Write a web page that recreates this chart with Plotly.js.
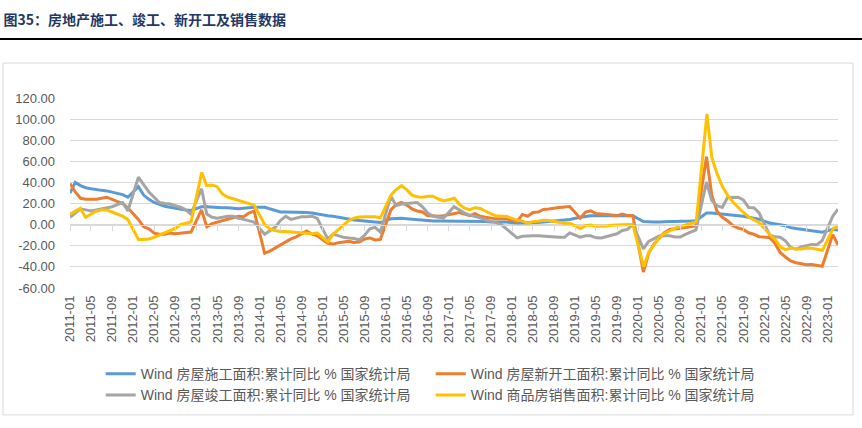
<!DOCTYPE html>
<html>
<head>
<meta charset="utf-8">
<script src="https://cdn.plot.ly/plotly-3.0.1.min.js"></script>
<style>body{margin:0;background:#fff}</style>
</head>
<body>
<div id="chart" style="width:862px;height:428px"></div>
<script>
// month categories 2011-01 .. 2023-03 (January figures are not published, so null)
let months = [];
for (let y = 2011; y <= 2023; y++) {
  for (let m = 1; m <= 12; m++) {
    if (y === 2023 && m > 3) break;
    months.push(y + '-' + String(m).padStart(2, '0'));
  }
}
let tickMonths = months.filter((d, i) => i % 4 === 0);

let yTicks = [-60, -40, -20, 0, 20, 40, 60, 80, 100, 120];
let yTickText = ['-60.00', '-40.00', '-20.00', '0.00', '20.00', '40.00', '60.00', '80.00', '100.00', '120.00'];

// 房屋施工面积:累计同比
let construction = [
  30, 40, 37, 35, 34, 33, 32.5, 32, 31, 30, 28.5, 26,
  null, 36, 28, 24, 21, 19, 17.5, 16.5, 15.5, 15, 14, 13.5,
  null, 17, 17, 16.5, 16.5, 16, 16, 15.5, 15, 15.5, 16, 16.5,
  null, 16.5, 15, 13, 12, 12, 12, 12, 12, 11.5, 11, 10,
  null, 8.5, 8, 7, 6, 5.5, 4.5, 4, 3.5, 3, 2.5, 2,
  null, 5.5, 6, 6, 5.5, 5, 4.5, 4.5, 4, 3.5, 3.5, 3.5,
  null, 3.5, 3.5, 3.5, 3, 3, 3, 3, 2.5, 2.5, 2.5, 2.5,
  null, 1.5, 1.5, 1.5, 1.5, 2, 2.5, 3, 3.5, 4, 4.5, 5,
  null, 7, 8, 8.5, 8.5, 8.5, 9, 9, 8.5, 9, 8.5, 8.5,
  null, 3, 2.5, 2.5, 2.5, 3, 3, 3, 3, 3.5, 3.5, 3.8,
  null, 11, 11, 10.5, 10, 10, 9, 8.5, 8, 7, 6, 5.2,
  null, 1.5, 1, 0, -1, -2.8, -3.7, -4.5, -5.3, -5.7, -6.5, -7.2,
  null, -4.4, -5.2
];

// 房屋新开工面积:累计同比
let newStarts = [
  39, 31, 25, 24, 24, 24, 25, 26, 24, 22, 20, 16,
  null, 5, -2, -4, -8, -9, -9, -8, -8.5, -8, -7.5, -7,
  null, 14, -2, 1, 2.5, 3.5, 5, 7, 8, 7.5, 11, 13,
  null, -27, -25, -22, -19.5, -16.5, -13.5, -11.5, -9, -6, -9, -10.5,
  null, -17.7, -18.4, -17.1, -16.1, -15.8, -16.8, -16.5, -13.5, -12.6, -14.5, -14,
  null, 14, 19, 21, 18.5, 15, 13, 12, 8.5, 8.5, 8, 8.5,
  null, 10.5, 11.5, 10, 8.5, 10.5, 8, 7, 6, 5.5, 5.5, 5.5,
  null, 3, 9.7, 8, 11.5, 12, 14.4, 14.8, 15.8, 16.3, 16.8, 17.2,
  null, 6, 11.9, 13.1, 10.5, 10.1, 9.5, 8.9, 8.6, 10, 8.6, 8.5,
  null, -44.9, -27.2, -18.4, -12.8, -7.6, -4.5, -3.6, -3.4, -2.6, -2, -1.2,
  null, 64.3, 28.2, 12.8, 6.9, 3.8, -0.9, -3.2, -4.5, -7.7, -9.1, -11.4,
  null, -12.2, -17.5, -26.3, -30.6, -34.4, -36.1, -37.2, -38, -37.8, -38.9, -39.4,
  null, -9.4, -19.2
];

// 房屋竣工面积:累计同比
let completions = [
  7, 11, 15, 14, 13, 14, 15, 16, 17, 19, 21, 13,
  null, 45, 38, 31, 26, 21, 20, 19.5, 18, 16.5, 14, 10,
  null, 34, 10, 7, 6, 7, 8, 8, 6, 5, 4, 2.5,
  null, -9, -6, -2.5, 4, 8, 5, 6.5, 7.5, 7.5, 8, 6,
  null, -13.5, -9, -10.5, -12, -12.7, -13, -14.5, -10, -4, -2.5, -7,
  null, 27, 18, 19.5, 20, 20.5, 21, 17, 11, 8, 7, 6.3,
  null, 17, 14, 11, 9, 8, 6.5, 4.5, 3.5, 2, 0, -4,
  null, -12.5, -11, -10.5, -10.5, -10.5, -11, -11, -11.5, -12, -12, -7.8,
  null, -11.9, -10.5, -10.5, -12.5, -12.7, -11.3, -10, -8.6, -5.5, -4.5, 0.5,
  null, -22.9, -15.8, -13.5, -10.8, -10.5, -10.5, -11.6, -11.6, -9.2, -7.3, -4.9,
  null, 40.4, 22.9, 17.9, 16.4, 25.7, 25.7, 26, 23.4, 16.3, 16, 11.2,
  null, -9.8, -11.5, -11.9, -15.3, -21.5, -23.3, -21.1, -19.9, -18.7, -19, -15,
  null, 8, 14.7
];

// 商品房销售面积:累计同比
let sales = [
  10, 13, 15.5, 7, 10, 12.7, 14, 14, 12, 10, 8, 5,
  null, -14, -14, -13.5, -12, -10, -8, -5.5, -3.5, 0, 1.5, 2.5,
  null, 49.5, 37.1, 37.5, 36, 29, 26, 24.5, 23, 22, 20, 18.5,
  null, 0, -4, -5.5, -6.5, -6.5, -7, -7.5, -8, -8.5, -8.5, -8,
  null, -16.3, -9.2, -4.8, -0.2, 3.9, 6.1, 7.2, 7.5, 7.5, 7.4, 6.5,
  null, 28.2, 33.1, 37, 33.2, 28, 26.5, 26, 27, 27, 24.3, 22.5,
  null, 25, 19.5, 15.7, 14.3, 16.1, 15.3, 12.7, 10.3, 8.2, 7.9, 7.7,
  null, 4.1, 3.6, 1.3, 2.9, 3.3, 4.2, 4, 2.9, 2.2, 1.4, 1.3,
  null, -3.6, -0.9, -0.3, -1.6, -1.8, -1.3, -0.6, -0.1, 0.1, 0.2, -0.1,
  null, -39.9, -26.3, -19.3, -12.3, -8.4, -5.8, -3.3, -1.8, 0, 1.3, 2.6,
  null, 104.9, 63.8, 48.1, 36.3, 27.7, 21.5, 15.9, 11.3, 7.3, 4.8, 1.9,
  null, -9.6, -13.8, -20.9, -23.6, -22.2, -23.1, -23, -22.2, -22.3, -23.3, -24.3,
  null, -3.6, -1.8
];

let names = [
  'Wind 房屋施工面积:累计同比 % 国家统计局',
  'Wind 房屋新开工面积:累计同比 % 国家统计局',
  'Wind 房屋竣工面积:累计同比 % 国家统计局',
  'Wind 商品房销售面积:累计同比 % 国家统计局'
];
let colors = ['#5B9BD5', '#ED7D31', '#A5A5A5', '#FFC000'];
let series = [construction, newStarts, completions, sales];

let data = series.map((s, i) => ({
  x: months,
  y: s,
  name: names[i],
  type: 'scatter',
  mode: 'lines',
  connectgaps: true,
  line: {color: colors[i], width: 3},
  // last trace sits on the overlay axis that draws the zero line ticks
  xaxis: i === 3 ? 'x2' : 'x'
}));

let baseFont = 'Liberation Sans, Arial, Noto Sans CJK SC, sans-serif';

let layout = {
  width: 862,
  height: 428,
  margin: {l: 70, r: 24, t: 98, b: 140},
  paper_bgcolor: '#ffffff',
  plot_bgcolor: '#ffffff',
  font: {family: baseFont, color: '#595959', size: 13},
  title: {
    text: '图35：房地产施工、竣工、新开工及销售数据',
    x: 0.004, xref: 'container', xanchor: 'left',
    y: 0.953, yref: 'container', yanchor: 'middle',
    font: {family: 'Noto Sans CJK SC, sans-serif', size: 14, color: '#1F3864', weight: 'bold'}
  },
  showlegend: true,
  legend: {
    orientation: 'h',
    x: 0.04, xanchor: 'left',
    y: -0.369, yanchor: 'top',
    entrywidth: 285,
    traceorder: 'normal',
    bgcolor: 'rgba(0,0,0,0)',
    font: {family: baseFont, size: 14, color: '#595959'}
  },
  xaxis: {
    type: 'category',
    categoryorder: 'array',
    categoryarray: months,
    range: [0, months.length - 1],
    tickvals: tickMonths,
    ticktext: tickMonths,
    tickangle: -90,
    ticks: '',
    ticklabelstandoff: 4,
    showgrid: false,
    showline: false,
    zeroline: false,
    tickfont: {size: 13, color: '#595959'}
  },
  xaxis2: {
    overlaying: 'x',
    matches: 'x',
    anchor: 'free',
    position: 1 / 3,
    showline: true,
    linecolor: '#D9D9D9',
    linewidth: 1,
    ticks: 'outside',
    ticklen: 5,
    tickcolor: '#D9D9D9',
    tickvals: tickMonths,
    showticklabels: false,
    showgrid: false,
    zeroline: false
  },
  yaxis: {
    range: [-60, 120],
    tickvals: yTicks,
    ticktext: yTickText,
    ticks: '',
    ticklabelstandoff: 14,
    showgrid: true,
    gridcolor: '#D9D9D9',
    gridwidth: 1,
    zeroline: false,
    showline: false,
    tickfont: {size: 13, color: '#595959'}
  },
  shapes: [
    {type: 'line', xref: 'paper', yref: 'paper', x0: -0.0912, x1: 1.0313, y0: 1.3105, y1: 1.3105,
     line: {color: '#000000', width: 2}},
    {type: 'rect', xref: 'paper', yref: 'paper', x0: -0.0872, x1: 1.0195, y0: -0.668, y1: 1.184,
     line: {color: '#D9D9D9', width: 1}, fillcolor: 'rgba(0,0,0,0)', layer: 'below'}
  ]
};

Plotly.newPlot('chart', data, layout, {displayModeBar: false});
</script>
</body>
</html>
